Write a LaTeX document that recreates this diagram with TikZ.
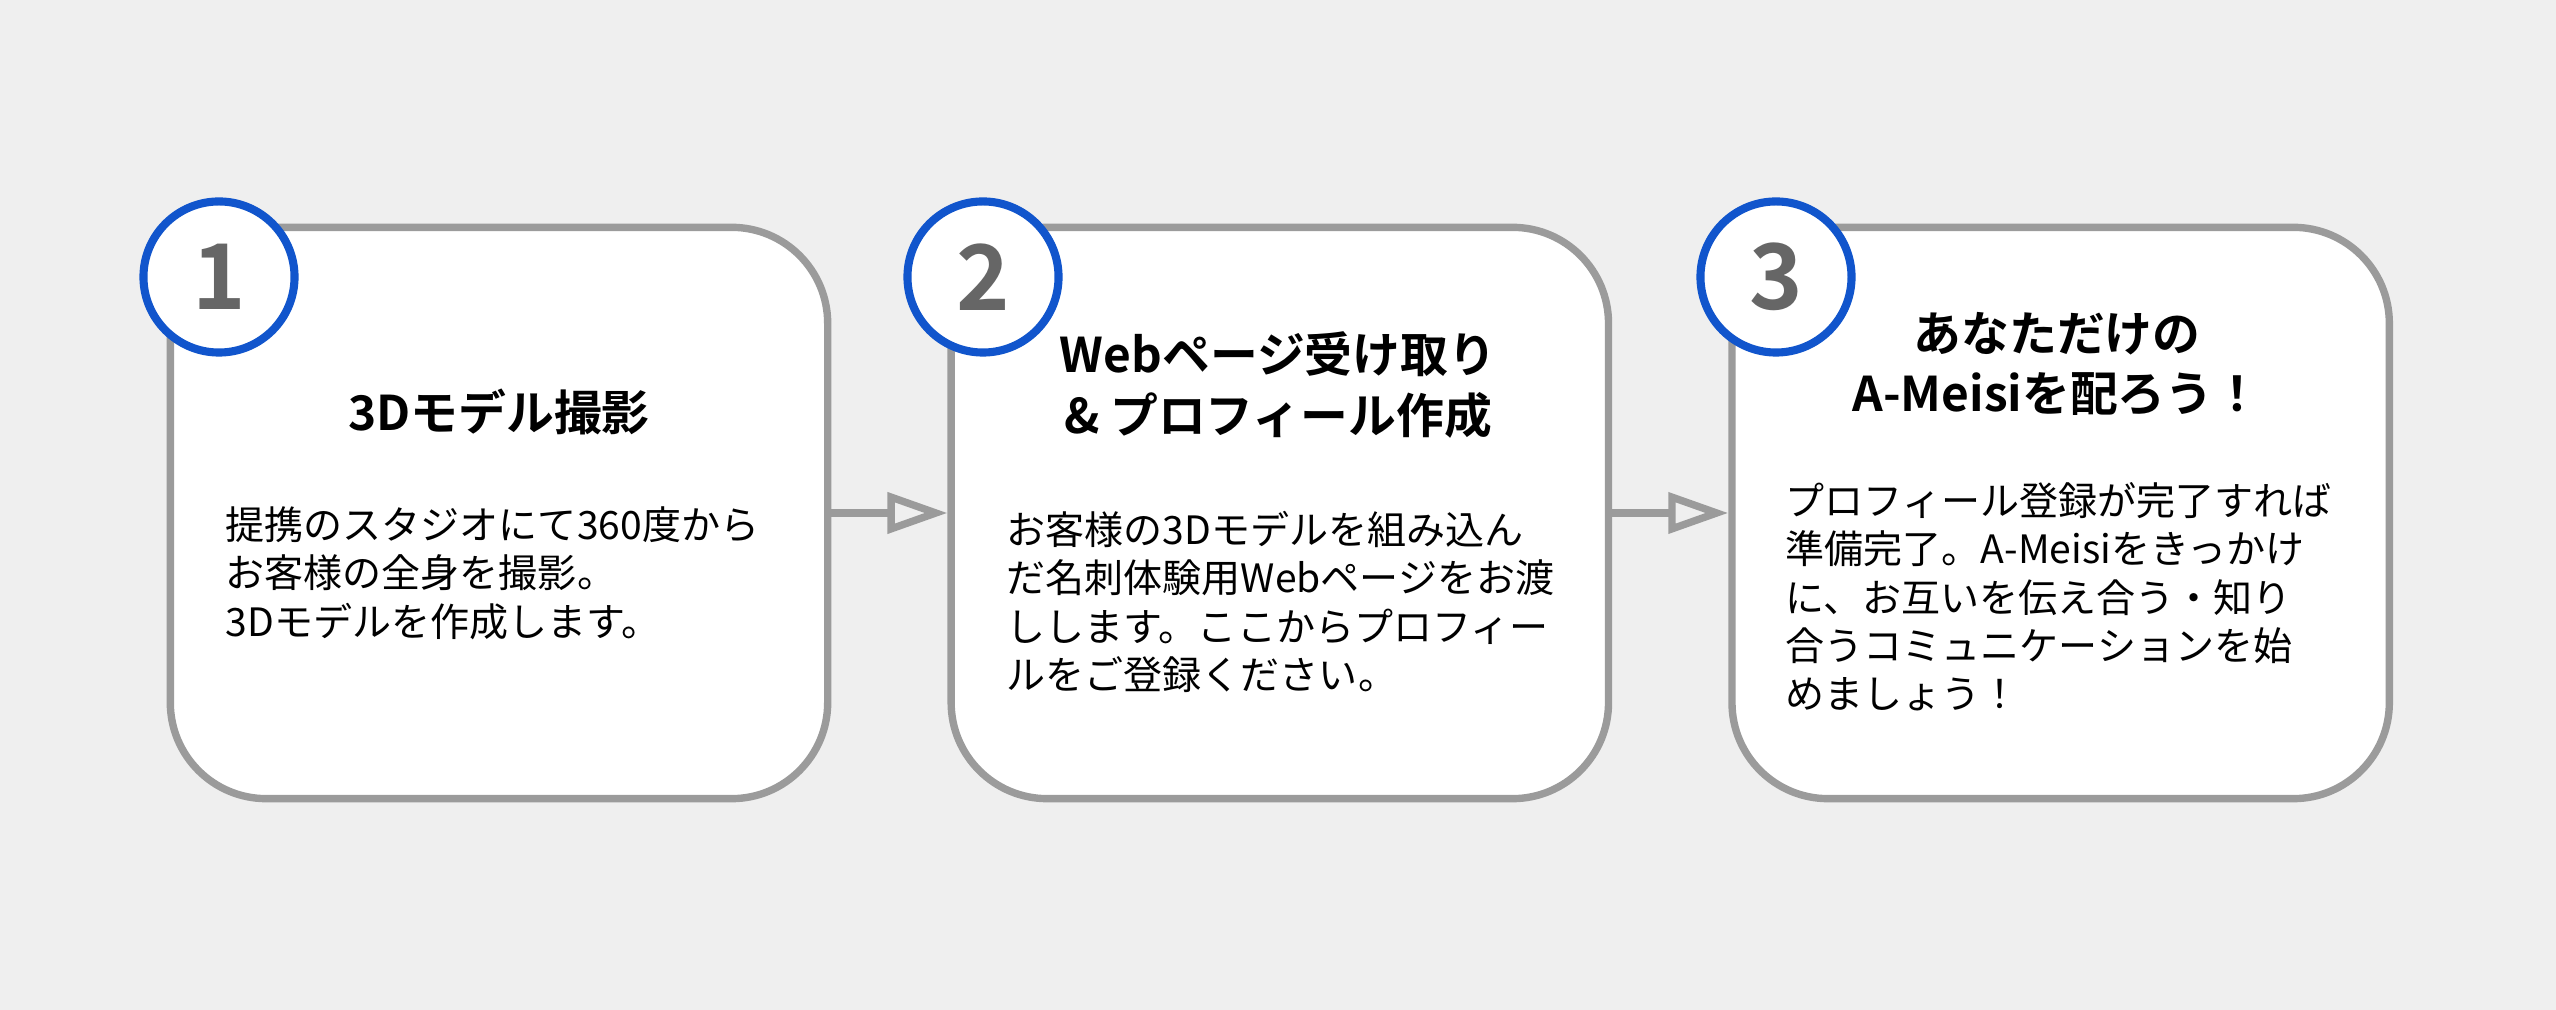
\documentclass[tikz,border=0pt]{standalone}
\usepackage{fontspec}
\setmainfont{Noto Sans CJK JP}[BoldFont={Noto Sans CJK JP Bold}]
\usetikzlibrary{arrows.meta,positioning}
\definecolor{bgGray}{HTML}{EFEFEF}
\definecolor{lineGray}{HTML}{9B9B9B}
\definecolor{numBlue}{HTML}{1155CC}
\definecolor{numGray}{HTML}{666666}

\begin{document}
\begin{tikzpicture}[
  x=0.01cm, y=-0.01cm,
  stepbox/.style={draw=lineGray, line width=2.1pt, fill=white, rounded corners=0.96cm,
    minimum width=6.57cm, minimum height=5.71cm, inner sep=0pt},
  numcirc/.style={circle, draw=numBlue, line width=2.3pt, fill=white, minimum size=1.51cm,
    inner sep=0pt, text=numGray, font=\bfseries\fontsize{25.8}{26}\selectfont},
  title/.style={align=center, inner sep=0pt, font=\bfseries\fontsize{13.6}{17.3}\selectfont},
  body/.style={align=left, anchor=west, inner sep=0pt, font=\fontsize{11.1}{13.75}\selectfont},
  flow/.style={-{Triangle[open, length=0.6cm, width=0.4cm]}, draw=lineGray, line width=2.1pt}
]
\useasboundingbox[fill=bgGray] (0,0) rectangle (2556,1010);
% three steps
\node[stepbox] (box1) at (499,513) {};
\node[stepbox, right=1.16cm of box1] (box2) {};
\node[stepbox, right=1.16cm of box2] (box3) {};
\draw[flow] (box1) -- (box2);
\draw[flow] (box2) -- (box3);
% step numbers
\node[numcirc] (n1) at (219,277) {1};
\node[numcirc] (n2) at (983,277) {2};
\node[numcirc] (n3) at (1776,277) {3};
% titles
\node[title] (t1) at (499,412) {3Dモデル撮影};
\node[title] (t2) at (1278,385) {Webページ受け取り\\\& プロフィール作成};
\node[title] (t3) at (2057,364) {あなただけの\\A-Meisiを配ろう！};
% descriptions
\node[body] (b1) at (225,573) {提携のスタジオにて360度から\\お客様の全身を撮影。\\3Dモデルを作成します。};
\node[body] (b2) at (1006,602) {お客様の3Dモデルを組み込ん\\だ名刺体験用Webページをお渡\\しします。ここからプロフィー\\ルをご登録ください。};
\node[body] (b3) at (1785,597) {プロフィール登録が完了すれば\\準備完了。A-Meisiをきっかけ\\に、お互いを伝え合う・知り\\合うコミュニケーションを始\\めましょう！};
\end{tikzpicture}
\end{document}
